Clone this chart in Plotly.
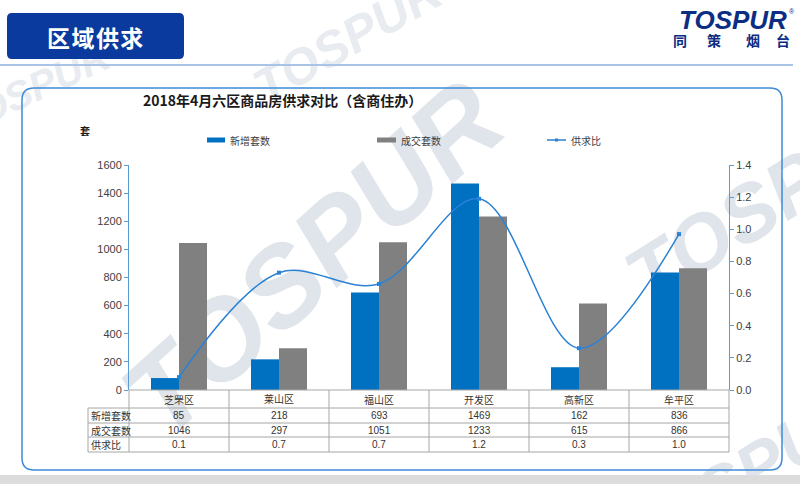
import plotly.graph_objects as go

# ---------------- data ----------------
categories = ["芝罘区", "莱山区", "福山区", "开发区", "高新区", "牟平区"]
new_units = [85, 218, 693, 1469, 162, 836]          # 新增套数
sold_units = [1046, 297, 1051, 1233, 615, 866]      # 成交套数
ratio = [0.08, 0.73, 0.66, 1.19, 0.26, 0.97]        # 供求比 (line)
ratio_labels = ["0.1", "0.7", "0.7", "1.2", "0.3", "1.0"]
row_names = ["新增套数", "成交套数", "供求比"]
left_ticks = [0, 200, 400, 600, 800, 1000, 1200, 1400, 1600]
right_ticks = [0.0, 0.2, 0.4, 0.6, 0.8, 1.0, 1.2, 1.4]

# ---------------- geometry helpers (pixels -> paper) ----------------
L, R, T, B = 129, 729, 165, 390
W, H = R - L, B - T


def px(x):
    return (x - L) / W


def py(y):
    return (B - y) / H


def rrect(x0, y0, x1, y1, r):
    return (f"M {px(x0 + r)},{py(y0)} L {px(x1 - r)},{py(y0)} "
            f"Q {px(x1)},{py(y0)} {px(x1)},{py(y0 + r)} L {px(x1)},{py(y1 - r)} "
            f"Q {px(x1)},{py(y1)} {px(x1 - r)},{py(y1)} L {px(x0 + r)},{py(y1)} "
            f"Q {px(x0)},{py(y1)} {px(x0)},{py(y1 - r)} L {px(x0)},{py(y0 + r)} "
            f"Q {px(x0)},{py(y0)} {px(x0 + r)},{py(y0)} Z")


BLUE = "#0070C0"
GREY = "#808080"
LINE = "#2a82d4"
AXIS = "#5b9bd5"
TXT = "#333333"
FONT = "Liberation Sans, Noto Sans CJK SC, sans-serif"
CJK = "Noto Sans CJK SC, sans-serif"

fig = go.Figure()
fig.add_trace(go.Bar(x=categories, y=new_units, name="新增套数",
                     marker=dict(color=BLUE, line=dict(width=0))))
fig.add_trace(go.Bar(x=categories, y=sold_units, name="成交套数",
                     marker=dict(color=GREY, line=dict(width=0))))
fig.add_trace(go.Scatter(x=categories, y=ratio, name="供求比", yaxis="y2",
                         mode="lines+markers",
                         line=dict(color=LINE, width=1.5, shape="spline", smoothing=1.0),
                         marker=dict(symbol="square", size=4, color=LINE)))

shapes = []
annotations = []


# watermarks (behind the plot)
def watermark(cx, cy, size, angle, color="#e0e5eb"):
    shapes.append(dict(type="rect", xref="paper", yref="paper", layer="below",
                       x0=px(cx - 50), x1=px(cx + 50), y0=py(cy + 20), y1=py(cy - 20),
                       line=dict(width=0), fillcolor="rgba(0,0,0,0)",
                       label=dict(text="TOSPUR", textangle=angle, textposition="middle center",
                                  font=dict(family="Liberation Sans", size=size, color=color,
                                            weight="bold", style="italic"))))


watermark(305, 250, 112, -42)
watermark(770, 190, 80, -32)
watermark(30, 85, 40, -25, "#e8ecf0")
watermark(345, 35, 50, -30, "#e8ecf0")
watermark(740, 470, 70, -32)

# chart frame
shapes.append(dict(type="path", xref="paper", yref="paper", layer="below",
                   path=rrect(22, 88, 782, 470, 12),
                   line=dict(color="#3d8bd9", width=1.5), fillcolor="rgba(0,0,0,0)"))
# bottom grey band
shapes.append(dict(type="rect", xref="paper", yref="paper", layer="below",
                   x0=px(0), x1=px(800), y0=py(484), y1=py(475),
                   line=dict(width=0), fillcolor="#dcdcdc"))
# header line
shapes.append(dict(type="line", xref="paper", yref="paper",
                   x0=px(0), x1=px(793), y0=py(65), y1=py(65),
                   line=dict(color="#a9c4e6", width=2)))
# header box
shapes.append(dict(type="path", xref="paper", yref="paper",
                   path=rrect(7, 13, 184, 59, 5),
                   line=dict(width=0), fillcolor="#0a3a9e"))
annotations.append(dict(xref="paper", yref="paper", x=px(95), y=py(37),
                        text="<b>区\u200a域\u200a供\u200a求</b>", showarrow=False,
                        font=dict(family=CJK, size=23, color="white"),
                        xanchor="center", yanchor="middle"))

# logo
annotations.append(dict(xref="paper", yref="paper", x=px(733), y=py(20),
                        text="<b><i>TOSPUR</i></b>", showarrow=False,
                        font=dict(family="Liberation Sans", size=26, color="#0b2d83"),
                        xanchor="center", yanchor="middle"))
annotations.append(dict(xref="paper", yref="paper", x=px(792), y=py(11),
                        text="®", showarrow=False,
                        font=dict(family="Liberation Sans", size=7, color="#0b2d83"),
                        xanchor="center", yanchor="middle"))
for ch, cx in zip(["同", "策", "烟", "台"], [680, 714, 753, 783]):
    annotations.append(dict(xref="paper", yref="paper", x=px(cx), y=py(39.5),
                            text=f"<b>{ch}</b>", showarrow=False,
                            font=dict(family=CJK, size=14, color="#0b2d83"),
                            xanchor="center", yanchor="middle"))

# chart title
annotations.append(dict(xref="paper", yref="paper", x=px(282), y=py(100),
                        text="<b>2018年4月六区商品房供求对比（含商住办）</b>", showarrow=False,
                        font=dict(family=CJK, size=14, color="#1a1a1a"),
                        xanchor="center", yanchor="middle"))
# unit label
annotations.append(dict(xref="paper", yref="paper", x=px(85), y=py(131),
                        text="<b>套</b>", showarrow=False,
                        font=dict(family=CJK, size=10, color="#1a1a1a"),
                        xanchor="center", yanchor="middle"))

# manual legend
shapes.append(dict(type="rect", xref="paper", yref="paper",
                   x0=px(207), x1=px(225), y0=py(142.5), y1=py(137.5),
                   line=dict(width=0), fillcolor=BLUE))
shapes.append(dict(type="rect", xref="paper", yref="paper",
                   x0=px(377), x1=px(396), y0=py(142.5), y1=py(137.5),
                   line=dict(width=0), fillcolor=GREY))
shapes.append(dict(type="line", xref="paper", yref="paper",
                   x0=px(547), x1=px(566), y0=py(140), y1=py(140),
                   line=dict(color=LINE, width=1.5)))
shapes.append(dict(type="rect", xref="paper", yref="paper",
                   x0=px(555), x1=px(558), y0=py(141.5), y1=py(138.5),
                   line=dict(width=0), fillcolor=LINE))
for name, x0 in zip(["新增套数", "成交套数", "供求比"], [228, 399, 569]):
    annotations.append(dict(xref="paper", yref="paper", x=px(x0), y=py(140),
                            text=name, showarrow=False,
                            font=dict(family=CJK, size=10, color="#404040"),
                            xanchor="left", yanchor="middle"))

# data table
TL = "#a6a6a6"
for yy, x0 in [(390, 129), (408, 88), (423, 88), (437, 88), (452, 88)]:
    shapes.append(dict(type="line", xref="paper", yref="paper",
                       x0=px(x0), x1=px(729), y0=py(yy), y1=py(yy),
                       line=dict(color=TL, width=1)))
shapes.append(dict(type="line", xref="paper", yref="paper",
                   x0=px(88), x1=px(88), y0=py(408), y1=py(452),
                   line=dict(color=TL, width=1)))
for i in range(7):
    xx = 129 + 100 * i
    shapes.append(dict(type="line", xref="paper", yref="paper",
                       x0=px(xx), x1=px(xx), y0=py(390), y1=py(452),
                       line=dict(color=TL, width=1)))

row_y = [399.5, 415.5, 430, 444.5]
for i, cat in enumerate(categories):
    cx = px(129 + 100 * i + 50)
    cells = [cat, str(new_units[i]), str(sold_units[i]), ratio_labels[i]]
    for j, txt in enumerate(cells):
        annotations.append(dict(xref="paper", yref="paper", x=cx, y=py(row_y[j]),
                                text=txt, showarrow=False,
                                font=dict(family=FONT, size=10, color=TXT),
                                xanchor="center", yanchor="middle"))
for j, name in enumerate(row_names):
    annotations.append(dict(xref="paper", yref="paper", x=px(89), y=py(row_y[j + 1]),
                            text=name, showarrow=False,
                            font=dict(family=CJK, size=10, color=TXT),
                            xanchor="left", yanchor="middle"))

fig.update_layout(
    width=800, height=484,
    margin=dict(l=L, r=800 - R, t=T, b=484 - B, pad=0),
    paper_bgcolor="white",
    plot_bgcolor="rgba(0,0,0,0)",
    showlegend=False,
    barmode="group", bargap=0.44, bargroupgap=0,
    font=dict(family=FONT, size=11, color="#404040"),
    xaxis=dict(range=[-0.5, 5.5], showticklabels=False, showline=False, ticks="",
               showgrid=False, zeroline=False, fixedrange=True),
    yaxis=dict(range=[0, 1600], tickvals=left_ticks, showline=True, linecolor=AXIS,
               linewidth=1, ticks="outside", ticklen=4, tickcolor=AXIS,
               showgrid=False, zeroline=False,
               tickfont=dict(family=FONT, size=11, color="#404040")),
    yaxis2=dict(range=[0, 1.4], tickvals=right_ticks, tickformat=".1f", overlaying="y",
                side="right", showline=True, linecolor=AXIS, linewidth=1,
                ticks="outside", ticklen=4, tickcolor=AXIS, showgrid=False,
                zeroline=False, tickfont=dict(family=FONT, size=11, color="#404040")),
    shapes=shapes,
    annotations=annotations,
)

fig.write_html("out.html", config={"displayModeBar": False},
               post_script="document.body.style.margin='0';document.body.style.overflow='hidden';")
